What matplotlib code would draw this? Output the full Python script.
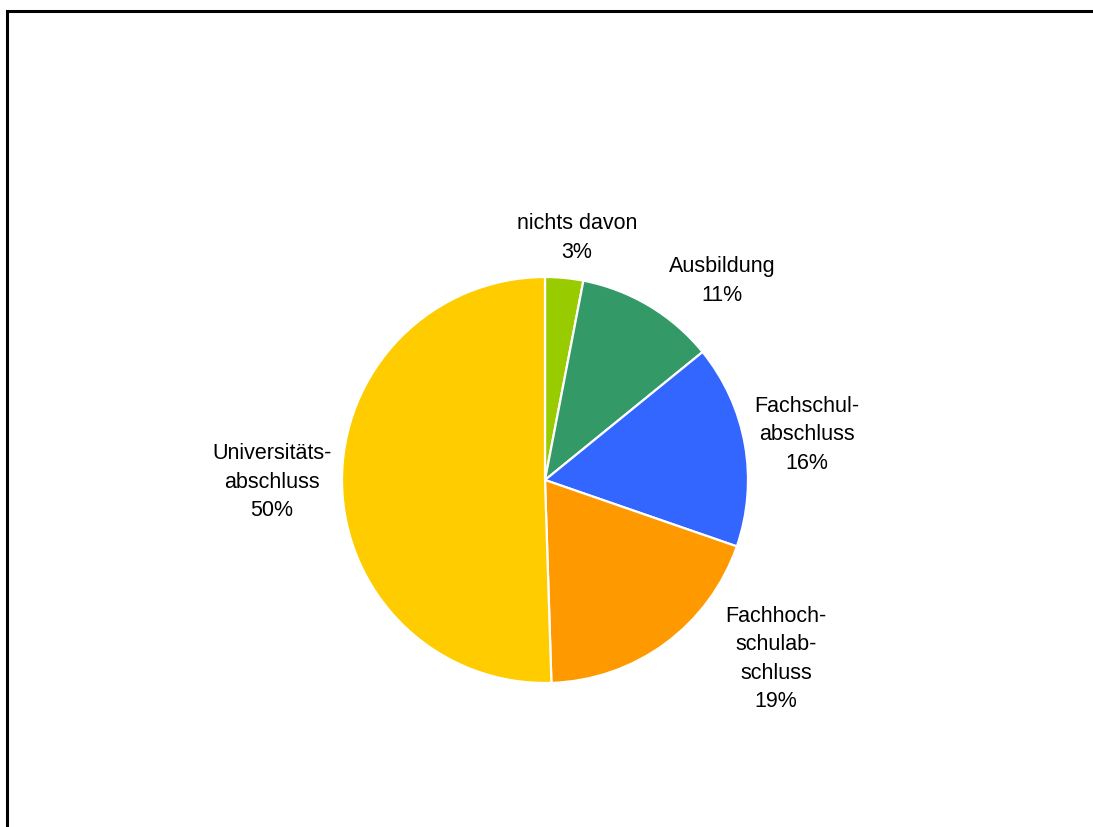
import matplotlib.pyplot as plt
from matplotlib.patches import Rectangle

plt.rcParams['font.family'] = ['Liberation Sans', 'DejaVu Sans']

# Anteile der Abschlüsse in % (im Uhrzeigersinn ab 12 Uhr)
labels = ['nichts davon', 'Ausbildung', 'Fachschul-\nabschluss',
          'Fachhoch-\nschulab-\nschluss', 'Universitäts-\nabschluss']
values = [3, 11, 16, 19, 50]
colors = ['#99CC00', '#339966', '#3366FF', '#FF9900', '#FFCC00']

# Beschriftungspositionen in Pixeln (x, y von oben)
label_pos = [(577, 238), (722, 281), (807, 435), (776, 659), (272, 482)]

W, H = 1093, 827
fig = plt.figure(figsize=(W / 100, H / 100), dpi=100)
ax = fig.add_axes([0, 0, 1, 1])

ax.pie(values, colors=colors, startangle=90, counterclock=False,
       center=(545, H - 480), radius=203,
       wedgeprops=dict(edgecolor='white', linewidth=1.6))

# pie() setzt eigene Grenzen, daher danach auf Pixelkoordinaten stellen
ax.set_xlim(0, W)
ax.set_ylim(0, H)
ax.set_aspect('equal')
ax.axis('off')

for lab, v, (x, y) in zip(labels, values, label_pos):
    ax.text(x, H - y, f'{lab}\n{v}%', ha='center', va='center',
            multialignment='center', fontsize=15.5, linespacing=1.45, color='#000000')

# Rahmen um das Diagramm
fig.patches.append(Rectangle((7 / W, -0.1), 1.2, (H - 11) / H + 0.1,
                             transform=fig.transFigure, fill=False,
                             edgecolor='black', linewidth=2.2))

plt.savefig('out.png', dpi=100)
